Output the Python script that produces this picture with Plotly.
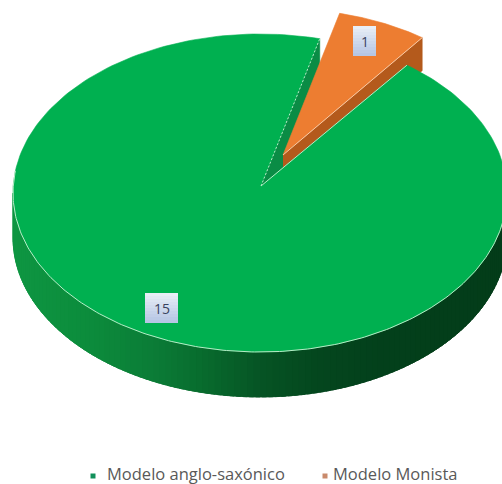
import numpy as np
import plotly.graph_objects as go

# Chart data
categories = ["Modelo anglo-saxónico", "Modelo Monista"]
values = [15, 1]

# Colours
GREEN_TOP = "#00b050"
GREEN_FACE = "#0a8c45"
ORANGE_TOP = "#ed7d31"
ORANGE_SIDE = "#b45a1c"
RIM_GREEN = "#b6ecc6"
RIM_ORANGE = "#f9c9a4"
TEXT_LABEL = "#39425e"
TEXT_LEGEND = "#595959"
LEGEND_MARKS = ["#12905a", "#c98a6c"]

# Wall shading stops: (position across the pie from left to right, colour)
WALL_STOPS = [
    (0.00, (14, 150, 66)),
    (0.15, (12, 140, 60)),
    (0.28, (11, 125, 55)),
    (0.38, (8, 108, 46)),
    (0.50, (6, 84, 36)),
    (0.62, (4, 70, 30)),
    (0.75, (3, 64, 27)),
    (1.00, (3, 60, 25)),
]

# Projected pie geometry in page pixels
CENTER = (260.0, 193.0)
RADII = (247.0, 159.0)
APEX = (261.0, 186.0)
DEPTH = 45.0
START_DEG = 14.0
EXPLODED_CENTER = (283.0, 155.0)
EXPLODED_RADII = (234.0, 146.0)

share = values[1] / sum(values)
slice_start = np.radians(START_DEG)
slice_end = slice_start + 2 * np.pi * share


def arc(center, radii, a0, a1, n=240):
    t = np.linspace(a0, a1, n)
    return center[0] + radii[0] * np.sin(t), center[1] - radii[1] * np.cos(t)


def wall_colour(u):
    xs = [s[0] for s in WALL_STOPS]
    rgb = [np.interp(u, xs, [s[1][i] for s in WALL_STOPS]) for i in range(3)]
    return "rgb(%d,%d,%d)" % tuple(int(round(c)) for c in rgb)


def polygon(x, y, fill, line=None, width=1):
    return go.Scatter(
        x=list(x), y=list(y), mode="lines", fill="toself", fillcolor=fill,
        line=dict(color=line or fill, width=width if line else 0.6),
        hoverinfo="skip", showlegend=False,
    )


def stroke(x, y, color, width=1, dash="solid"):
    return go.Scatter(
        x=list(x), y=list(y), mode="lines",
        line=dict(color=color, width=width, dash=dash),
        hoverinfo="skip", showlegend=False,
    )


fig = go.Figure()

# Outer wall of the large slice: strips painted right to left, each one
# running past its neighbour so that no seam shows between them
strip_edges = np.radians(np.linspace(90, 270, 121))
for a0, a1 in zip(strip_edges[:-1], strip_edges[1:]):
    overlap_end = min(a1 + np.radians(2.5), np.radians(270))
    ax, ay = arc(CENTER, RADII, a0, overlap_end, 8)
    u = (np.sin((a0 + a1) / 2) + 1) / 2
    fig.add_trace(polygon(
        np.r_[ax, ax[::-1]], np.r_[ay, ay[::-1] + DEPTH], wall_colour(u)
    ))

# Cut face of the large slice seen through the gap
ex, ey = arc(CENTER, RADII, slice_start, slice_start, 1)
fig.add_trace(polygon(
    [APEX[0], ex[0], ex[0], APEX[0]],
    [APEX[1], ey[0], ey[0] + DEPTH, APEX[1] + DEPTH],
    GREEN_FACE,
))

# Exploded slice: cut face, outer wall, then its top
ox, oy = arc(EXPLODED_CENTER, EXPLODED_RADII, slice_start, slice_end, 60)
fig.add_trace(polygon(
    [EXPLODED_CENTER[0], ox[-1], ox[-1], EXPLODED_CENTER[0]],
    [EXPLODED_CENTER[1], oy[-1], oy[-1] + DEPTH - 12, EXPLODED_CENTER[1] + DEPTH - 12],
    ORANGE_SIDE,
))
fig.add_trace(polygon(
    np.r_[EXPLODED_CENTER[0], ox], np.r_[EXPLODED_CENTER[1], oy], ORANGE_TOP
))
fig.add_trace(stroke(
    [EXPLODED_CENTER[0], ox[-1]], [EXPLODED_CENTER[1], oy[-1]], RIM_ORANGE
))

# Top of the large slice
gx, gy = arc(CENTER, RADII, slice_end, slice_start + 2 * np.pi)
fig.add_trace(polygon(np.r_[APEX[0], gx], np.r_[APEX[1], gy], GREEN_TOP))

# Pale highlights on the front rim and the cut edges
rx, ry = arc(CENTER, RADII, np.radians(82), np.radians(278))
fig.add_trace(stroke(rx, ry, RIM_GREEN))
fig.add_trace(stroke([APEX[0], gx[0]], [APEX[1], gy[0]], RIM_GREEN))
fig.add_trace(stroke([APEX[0], gx[-1]], [APEX[1], gy[-1]], RIM_GREEN, dash="2px,2px"))

# Data labels on pale gradient chips
label_boxes = [(145, 293, 178, 323), (353, 26, 376, 56)]
shapes = []
for x0, y0, x1, y1 in label_boxes:
    bands = 10
    for i in range(bands):
        f = i / (bands - 1)
        r = int(232 - 50 * f)
        g = int(238 - 40 * f)
        b = int(246 - 18 * f)
        ya = y0 + (y1 - y0) * i / bands
        yb = y0 + (y1 - y0) * (i + 1) / bands
        shapes.append(dict(
            type="rect", x0=x0, x1=x1, y0=ya, y1=yb, xref="x", yref="y",
            fillcolor=f"rgb({r},{g},{b})", line=dict(width=0), layer="above",
        ))

annotations = []
for (x0, y0, x1, y1), v in zip(label_boxes, values):
    annotations.append(dict(
        x=(x0 + x1) / 2, y=(y0 + y1) / 2 + 0.5, xref="x", yref="y",
        text=str(v), showarrow=False,
        font=dict(family="Open Sans", size=14, color=TEXT_LABEL),
    ))

# Legend row
legend_marks_x = [93, 325]
legend_text_x = [105, 331]
LEGEND_Y = 473
fig.add_trace(go.Scatter(
    x=legend_marks_x, y=[476, 476], mode="markers",
    marker=dict(symbol="square", size=5, color=LEGEND_MARKS),
    hoverinfo="skip", showlegend=False,
))
for x, name in zip(legend_text_x, categories):
    annotations.append(dict(
        x=x, y=LEGEND_Y, xref="x", yref="y", text=name, showarrow=False,
        xanchor="left", yanchor="middle",
        font=dict(family="Open Sans", size=16.5, color=TEXT_LEGEND),
    ))

fig.update_layout(
    width=502, height=484,
    margin=dict(l=0, r=0, t=0, b=0),
    paper_bgcolor="white", plot_bgcolor="white",
    showlegend=False,
    xaxis=dict(range=[0, 502], visible=False, fixedrange=True),
    yaxis=dict(range=[484, 0], visible=False, fixedrange=True),
    shapes=shapes, annotations=annotations,
)

fig.write_html("out.html", config=dict(displayModeBar=False))
